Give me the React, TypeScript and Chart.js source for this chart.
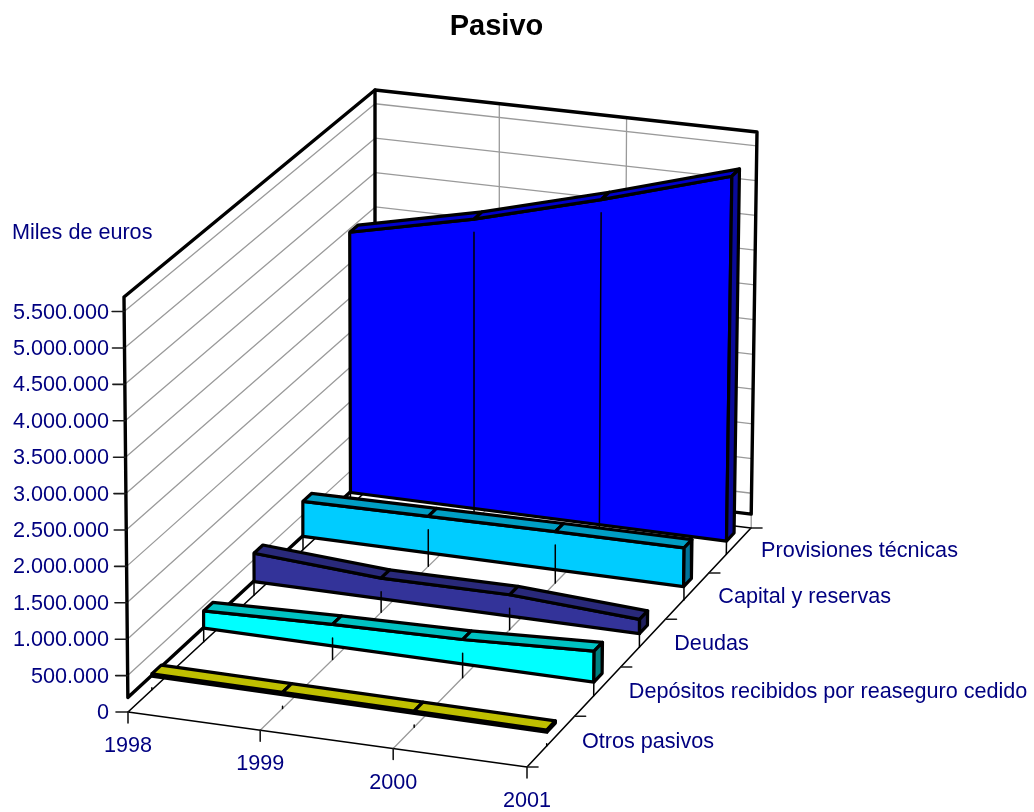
import React, { useEffect, useRef } from "react";
import { Chart, registerables } from "chart.js";

Chart.register(...registerables);

const title = "Pasivo";
const unitLabel = "Miles de euros";
const years = ["1998", "1999", "2000", "2001"];
const seriesNames = ["Otros pasivos", "Depósitos recibidos por reaseguro cedido", "Deudas", "Capital y reservas", "Provisiones técnicas"];
const valueTicks = [0, 500000, 1000000, 1500000, 2000000, 2500000, 3000000, 3500000, 4000000, 4500000, 5000000, 5500000];
const valueTickLabels = ["0", "500.000", "1.000.000", "1.500.000", "2.000.000", "2.500.000", "3.000.000", "3.500.000", "4.000.000", "4.500.000", "5.000.000", "5.500.000"];

const otrosPasivos = [30000, 30000, 30000, 30000];
const depositos = [240000, 300000, 340000, 430000];
const deudas = [400000, 290000, 300000, 200000];
const capital = [500000, 520000, 540000, 550000];
const provisiones = [3760000, 4165000, 4665000, 5220000];
const seriesValues = [otrosPasivos, depositos, deudas, capital, provisiones];

const frontColors = ["#CCCC00", "#00FFFF", "#333399", "#00CCFF", "#0000FF"];
const topColors = ["#BFBF00", "#00C2C2", "#29297A", "#009EC4", "#0000CC"];
const sideColors = ["#8F8F00", "#008080", "#1F1F5C", "#007399", "#0A0A9A"];

const TEXT = "#000080";
const FONT = '"Liberation Sans", Arial, sans-serif';
const W = 1034;
const H = 812;
const AXIS_TOP = 5700000;
const WALL_BASE = 200000;
const BAR_BASE = 190000;
const BAR_FRONT_LEFT = 0.45;
const BAR_FRONT_RIGHT = 0.41;
const BAR_DEPTH = 0.18;

type P = [number, number];

// Unit square to quadrilateral homography: (0,0) A, (1,0) B, (1,1) C, (0,1) D
function homography(a: P, b: P, c: P, d: P) {
  const dx1 = b[0] - c[0], dx2 = d[0] - c[0], sx = a[0] - b[0] + c[0] - d[0];
  const dy1 = b[1] - c[1], dy2 = d[1] - c[1], sy = a[1] - b[1] + c[1] - d[1];
  const den = dx1 * dy2 - dx2 * dy1;
  const g = (sx * dy2 - dx2 * sy) / den;
  const h = (dx1 * sy - sx * dy1) / den;
  const m = [b[0] - a[0] + g * b[0], d[0] - a[0] + h * d[0], a[0], b[1] - a[1] + g * b[1], d[1] - a[1] + h * d[1], a[1]];
  return (u: number, v: number): P => {
    const w = g * u + h * v + 1;
    return [(m[0] * u + m[1] * v + m[2]) / w, (m[3] * u + m[4] * v + m[5]) / w];
  };
}

const floorMap = homography([128, 712], [527, 767], [751, 528], [376, 482]);
const roofMap = homography([124, 297], [530, 351], [757, 132], [375, 90]);

function project(u: number, v: number, value: number) {
  // the reference's front edge spaces its years almost evenly
  const uu = u + 0.0035 * (1 - v) * 4 * u * (1 - u);
  const f = floorMap(uu, v);
  const r = roofMap(uu, v);
  const t = value / AXIS_TOP;
  return { x: f[0] + (r[0] - f[0]) * t, y: f[1] + (r[1] - f[1]) * t };
}

function buildLayers() {
  const layers: any[] = [];
  const line = (data: any[], color: string, width: number) =>
    layers.push({ data, borderColor: color, borderWidth: width, fill: false, pointRadius: 0, tension: 0, borderJoinStyle: "round", borderCapStyle: "round" });
  const poly = (data: any[], color: string, width = 3.2) =>
    layers.push({ data: [...data, data[0]], borderColor: "#000000", backgroundColor: color, borderWidth: width, fill: "shape", pointRadius: 0, tension: 0, borderJoinStyle: "round" });

  const GRID = "#9A9A9A";
  const last = years.length - 1;

  // wall grid lines
  valueTicks.slice(1).forEach((t) => {
    line([project(0, 0, t), project(0, 1, t), project(1, 1, t)], GRID, 1.3);
  });
  years.slice(1, last).forEach((_, i) => {
    const u = (i + 1) / last;
    line([project(u, 0, 0), project(u, 1, 0), project(u, 1, AXIS_TOP)], GRID, 1.3);
  });
  line([project(0, 1, 0), project(0, 1, WALL_BASE)], GRID, 1.3);
  line([project(1, 1, 0), project(1, 1, WALL_BASE)], GRID, 1.3);

  // floor outline
  line([project(0, 0, 0), project(1, 0, 0), project(1, 1, 0), project(0, 1, 0), project(0, 0, 0)], "#000000", 1.6);

  // wall frame
  line([project(0, 0, WALL_BASE), project(0, 0, AXIS_TOP), project(0, 1, AXIS_TOP), project(1, 1, AXIS_TOP), project(1, 1, WALL_BASE), project(0, 1, WALL_BASE), project(0, 0, WALL_BASE)], "#000000", 3.4);
  line([project(0, 1, WALL_BASE), project(0, 1, AXIS_TOP)], "#000000", 3.4);

  // axis ticks
  valueTicks.forEach((t) => {
    const p = project(0, 0, t);
    line([p, { x: p.x - 12, y: p.y }], "#1A1A1A", 1.6);
  });
  years.forEach((_, i) => {
    const p = project(i / last, 0, 0);
    line([p, { x: p.x, y: p.y + 11 }], "#1A1A1A", 1.6);
  });
  seriesNames.forEach((_, i) => {
    const p = project(1, (i + 1) / seriesNames.length, 0);
    line([p, { x: p.x + 11, y: p.y }], "#1A1A1A", 1.6);
  });
  const corner = project(1, 0, 0);
  line([corner, { x: corner.x + 11, y: corner.y }], "#1A1A1A", 1.6);

  // series, back to front
  for (let s = seriesValues.length - 1; s >= 0; s--) {
    const vals = seriesValues[s];
    const n = seriesNames.length;
    const vF = (i: number) => (s + BAR_FRONT_LEFT + ((BAR_FRONT_RIGHT - BAR_FRONT_LEFT) * i) / last) / n;
    const vB = (i: number) => vF(i) + BAR_DEPTH / n;
    const top = (i: number, v: number) => project(i / last, v, BAR_BASE + vals[i]);
    const base = (i: number, v: number) => project(i / last, v, BAR_BASE);

    poly([base(0, vF(0)), ...vals.map((_, i) => top(i, vF(i))), base(last, vF(last))], frontColors[s]);
    for (let i = 0; i < last; i++) {
      poly([top(i, vF(i)), top(i + 1, vF(i + 1)), top(i + 1, vB(i + 1)), top(i, vB(i))], topColors[s]);
    }
    poly([base(last, vF(last)), top(last, vF(last)), top(last, vB(last)), base(last, vB(last))], sideColors[s]);
    vals.forEach((val, i) => {
      line([project(i / last, vF(i), 0), project(i / last, vF(i), val)], "#000000", 1.5);
    });
  }
  return layers.map((l, i) => ({ ...l, order: -i }));
}

const textPlugin = {
  id: "chartText",
  afterDraw(chart: any) {
    const ctx = chart.ctx;
    ctx.save();
    ctx.textBaseline = "middle";
    ctx.fillStyle = "#000000";
    ctx.textAlign = "center";
    ctx.font = `bold 29px ${FONT}`;
    ctx.fillText(title, 496.5, 27);
    ctx.fillStyle = TEXT;
    ctx.font = `21.6px ${FONT}`;
    ctx.textAlign = "left";
    ctx.fillText(unitLabel, 12, 233);
    ctx.textAlign = "right";
    valueTicks.forEach((t, i) => {
      ctx.fillText(valueTickLabels[i], 109, project(0, 0, t).y + 1);
    });
    ctx.textAlign = "center";
    const last = years.length - 1;
    years.forEach((y, i) => {
      const p = project(i / last, 0, 0);
      ctx.fillText(y, p.x, p.y + 34);
    });
    ctx.textAlign = "left";
    seriesNames.forEach((n, i) => {
      const p = project(1, (i + 0.5) / seriesNames.length, 0);
      ctx.fillText(n, p.x + 31, p.y + 1);
    });
    ctx.restore();
  },
};

export default function App() {
  const ref = useRef<HTMLCanvasElement>(null);
  useEffect(() => {
    const chart = new Chart(ref.current as HTMLCanvasElement, {
      type: "line",
      data: { datasets: buildLayers() },
      options: {
        animation: false,
        responsive: false,
        parsing: false as any,
        normalized: false,
        layout: { padding: 0 },
        plugins: { legend: { display: false }, title: { display: false }, tooltip: { enabled: false } },
        scales: {
          x: { type: "linear", min: 0, max: W, display: false },
          y: { type: "linear", min: 0, max: H, reverse: true, display: false },
        },
      },
      plugins: [textPlugin],
    } as any);
    return () => chart.destroy();
  }, []);
  return (
    <div style={{ position: "absolute", left: 0, top: 0, width: W, height: H, background: "#fff" }}>
      <canvas ref={ref} width={W} height={H} style={{ display: "block" }} />
    </div>
  );
}
